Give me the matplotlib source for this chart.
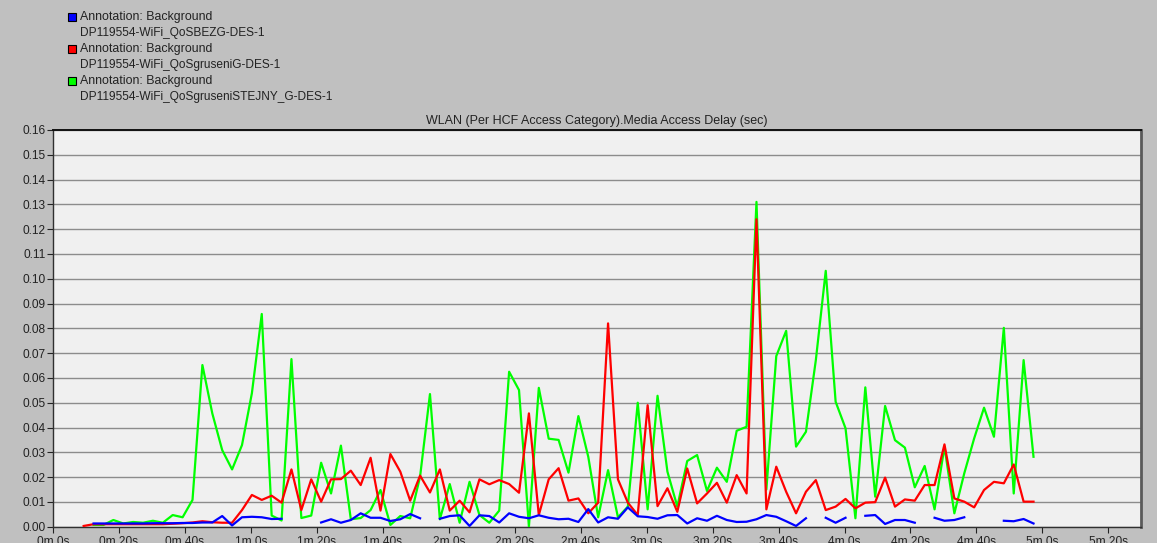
import numpy as np
import matplotlib
matplotlib.use("Agg")
import matplotlib.pyplot as plt
from matplotlib.patches import Rectangle

nan = np.nan

# sample times (s), one sample every 3 s
t = np.arange(9.3, 300, 3.0)

# Media Access Delay (sec) per scenario
bezg = [nan, 0.0013, 0.0013, 0.0013, 0.0013, 0.0013, 0.0013, 0.0014, 0.0014, 0.0014,
        0.0015, 0.0015, 0.0017, 0.0017, 0.0043, 0.0005, 0.0038, 0.0040, 0.0038, 0.0031,
        0.0032, nan, nan, nan, 0.0017, 0.0030, 0.0016, 0.0027, 0.0054, 0.0036,
        0.0036, 0.0023, 0.0030, 0.0051, 0.0034, nan, 0.0032, 0.0043, 0.0046, 0.0003,
        0.0046, 0.0043, 0.0017, 0.0054, 0.0040, 0.0034, 0.0046, 0.0036, 0.0030, 0.0032,
        0.0019, 0.0071, 0.0017, 0.0038, 0.0032, 0.0078, 0.0042, 0.0039, 0.0032, 0.0046,
        0.0047, 0.0013, 0.0034, 0.0024, 0.0044, 0.0027, 0.0019, 0.0020, 0.0030, 0.0047,
        0.0040, 0.0022, 0.0003, 0.0034, nan, 0.0036, 0.0016, 0.0036, nan, 0.0044,
        0.0047, 0.0011, 0.0027, 0.0027, 0.0016, nan, 0.0036, 0.0024, 0.0027, 0.0038,
        nan, nan, nan, 0.0024, 0.0022, 0.0031, 0.0013]

gruseni = [0.0003, 0.0010, 0.0010, 0.0010, 0.0010, 0.0010, 0.0010, 0.0010, 0.0010, 0.0012,
           0.0014, 0.0017, 0.0022, 0.0018, 0.0016, 0.0016, 0.0067, 0.0128, 0.0108, 0.0125,
           0.0097, 0.0231, 0.0067, 0.0191, 0.0101, 0.0191, 0.0192, 0.0226, 0.0168, 0.0278,
           0.0065, 0.0293, 0.0222, 0.0105, 0.0206, 0.0138, 0.0231, 0.0065, 0.0105, 0.0058,
           0.0191, 0.0171, 0.0188, 0.0172, 0.0137, 0.0457, 0.0047, 0.0191, 0.0236, 0.0105,
           0.0114, 0.0054, 0.0097, 0.0820, 0.0191, 0.0097, 0.0047, 0.0490, 0.0083, 0.0155,
           0.0060, 0.0235, 0.0094, 0.0134, 0.0177, 0.0097, 0.0208, 0.0134, 0.1240, 0.0070,
           0.0242, 0.0141, 0.0054, 0.0141, 0.0188, 0.0067, 0.0081, 0.0112, 0.0074, 0.0097,
           0.0099, 0.0198, 0.0081, 0.0110, 0.0105, 0.0168, 0.0168, 0.0332, 0.0114, 0.0101,
           0.0078, 0.0148, 0.0181, 0.0175, 0.0251, 0.0101, 0.0101]

stejny = [nan, 0.0007, 0.0007, 0.0027, 0.0013, 0.0019, 0.0016, 0.0024, 0.0016, 0.0047,
          0.0038, 0.0108, 0.0652, 0.0457, 0.0309, 0.0231, 0.0329, 0.0538, 0.0858, 0.0045,
          0.0025, 0.0676, 0.0035, 0.0045, 0.0258, 0.0134, 0.0327, 0.0030, 0.0035, 0.0067,
          0.0148, 0.0007, 0.0043, 0.0034, 0.0202, 0.0535, 0.0030, 0.0172, 0.0016, 0.0181,
          0.0047, 0.0016, 0.0065, 0.0625, 0.0551, 0.0000, 0.0560, 0.0355, 0.0350, 0.0218,
          0.0446, 0.0282, 0.0038, 0.0228, 0.0038, 0.0081, 0.0500, 0.0070, 0.0528, 0.0222,
          0.0081, 0.0265, 0.0289, 0.0144, 0.0238, 0.0181, 0.0387, 0.0403, 0.1310, 0.0150,
          0.0688, 0.0790, 0.0323, 0.0383, 0.0672, 0.1032, 0.0504, 0.0397, 0.0034, 0.0562,
          0.0121, 0.0487, 0.0349, 0.0319, 0.0159, 0.0245, 0.0070, 0.0323, 0.0054, 0.0215,
          0.0356, 0.0480, 0.0363, 0.0802, 0.0134, 0.0672, 0.0282]

legend_names = ["DP119554-WiFi_QoSBEZG-DES-1",
                "DP119554-WiFi_QoSgruseniG-DES-1",
                "DP119554-WiFi_QoSgruseniSTEJNY_G-DES-1"]
colors = ["#0000ff", "#ff0000", "#00ff00"]

xticks = np.arange(0, 321, 20)
xlabels = [f"{s // 60}m {s % 60}s" for s in xticks]
yticks = np.arange(0, 0.161, 0.01)

plt.rcParams["font.family"] = ["Liberation Sans", "DejaVu Sans"]
plt.rcParams["font.size"] = 8.6

W, H = 1157, 543
fig = plt.figure(figsize=(W / 100, H / 100), dpi=100, facecolor="#c0c0c0")
ax = fig.add_axes([53 / W, 1 - 526.7 / H, (1140.7 - 53) / W, (526.7 - 130) / H])
ax.set_facecolor("#f0f0f0")

# green at the back, blue on top
ax.plot(t, stejny, color=colors[2], lw=1.6, zorder=3)
ax.plot(t, gruseni, color=colors[1], lw=1.6, zorder=4)
ax.plot(t, bezg, color=colors[0], lw=1.6, zorder=5)

ax.set_xlim(0, 329.8)
ax.set_ylim(0, 0.16)
ax.set_yticks(yticks)
ax.set_yticklabels([f"{v:.2f}" for v in yticks])
ax.set_xticks(xticks)
ax.set_xticklabels(xlabels)
ax.yaxis.grid(True, color="#8c8c8c", lw=1.0)
ax.set_axisbelow(True)
ax.tick_params(axis="y", direction="out", length=4, width=0.8, pad=1.5, colors="#222222")
ax.tick_params(axis="x", direction="out", length=4, width=0.8, pad=2.5, colors="#222222")

for side in ["left", "bottom"]:
    ax.spines[side].set_color("#303030")
    ax.spines[side].set_linewidth(1.0)
ax.spines["top"].set_color("#111111")
ax.spines["top"].set_linewidth(1.4)
ax.spines["right"].set_color("#5a5a5a")
ax.spines["right"].set_linewidth(2.0)

fig.text((53 + 1140.7) / 2 / W, 1 - 121 / H,
         "WLAN (Per HCF Access Category).Media Access Delay (sec)",
         ha="center", va="center", color="#222222", fontsize=9.0)

# legend drawn by hand, two text lines per entry
for i, (name, c) in enumerate(zip(legend_names, colors)):
    yc = 17 + 32 * i
    fig.add_artist(Rectangle((68 / W, 1 - (yc + 4) / H), 8 / W, 8 / H,
                             transform=fig.transFigure, facecolor=c,
                             edgecolor="black", lw=0.8))
    fig.text(80 / W, 1 - yc / H, "Annotation: Background",
             ha="left", va="center", color="#222222", fontsize=8.9)
    fig.text(80 / W, 1 - (yc + 16) / H, name,
             ha="left", va="center", color="#222222")

fig.savefig("out.png", dpi=100, facecolor=fig.get_facecolor())
